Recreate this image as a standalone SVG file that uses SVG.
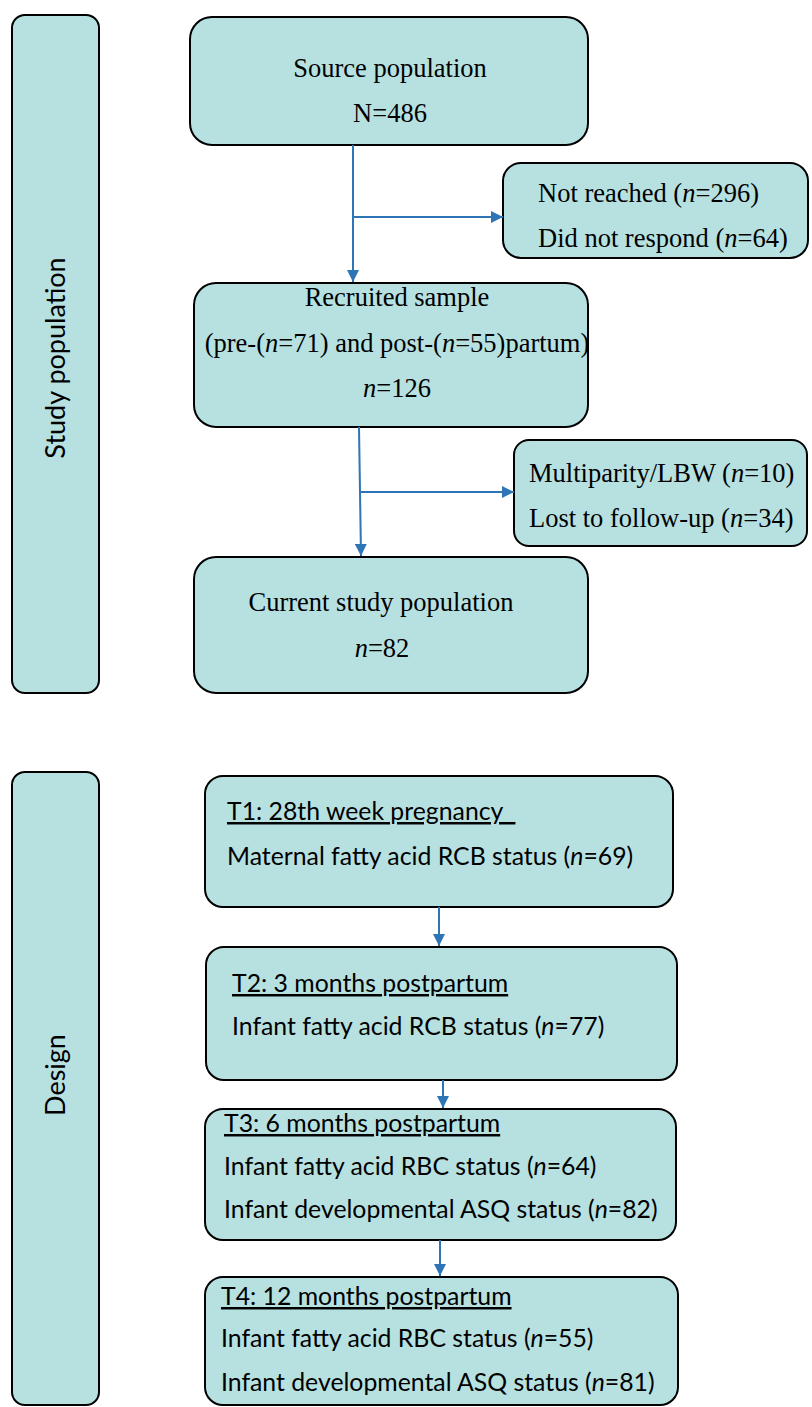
<svg xmlns="http://www.w3.org/2000/svg" width="812" height="1407" viewBox="0 0 812 1407">
<defs>
<style>
.box{fill:#b7e1e1;stroke:#000;stroke-width:2}
.serif{font-family:"Liberation Serif","Times New Roman",serif;font-size:26.5px;fill:#000}
.sans{font-family:Lato,"Liberation Sans",sans-serif;font-size:24.8px;fill:#000}
.side{font-family:Lato,"Liberation Sans",sans-serif;font-size:27px;fill:#000}
.conn{fill:none;stroke:#2e75b6;stroke-width:2}
.u{text-decoration:underline}
</style>
<marker id="ah" markerUnits="userSpaceOnUse" markerWidth="13" markerHeight="12" refX="12" refY="6" orient="auto">
<path d="M0,0 L12,6 L0,12 z" fill="#2e75b6"/>
</marker>
</defs>
<rect width="812" height="1407" fill="#fff"/>

<g id="side-study">
<rect class="box" x="12" y="15" width="87" height="678" rx="13"/>
<text class="side" transform="translate(65,358) rotate(-90)" text-anchor="middle">Study population</text>
</g>
<g id="side-design">
<rect class="box" x="12" y="772" width="87" height="633" rx="13"/>
<text class="side" transform="translate(65,1075) rotate(-90)" text-anchor="middle">Design</text>
</g>

<g id="source">
<rect class="box" x="190" y="17" width="398" height="128" rx="22"/>
<text class="serif" x="390" y="77" text-anchor="middle">Source population</text>
<text class="serif" x="390" y="122" text-anchor="middle">N=486</text>
</g>
<g id="excluded1">
<rect class="box" x="503" y="163" width="305" height="95" rx="18"/>
<text class="serif" x="538" y="202">Not reached (<tspan font-style="italic">n</tspan>=296)</text>
<text class="serif" x="538" y="247">Did not respond (<tspan font-style="italic">n</tspan>=64)</text>
</g>
<g id="recruited">
<rect class="box" x="194" y="283" width="394" height="144" rx="22"/>
<text class="serif" x="397" y="306" text-anchor="middle">Recruited sample</text>
<text class="serif" x="397" y="352" text-anchor="middle">(pre-(<tspan font-style="italic">n</tspan>=71) and post-(<tspan font-style="italic">n</tspan>=55)partum)</text>
<text class="serif" x="397" y="397" text-anchor="middle"><tspan font-style="italic">n</tspan>=126</text>
</g>
<g id="excluded2">
<rect class="box" x="514" y="440" width="293" height="106" rx="15"/>
<text class="serif" x="529" y="482">Multiparity/LBW (<tspan font-style="italic">n</tspan>=10)</text>
<text class="serif" x="529" y="527">Lost to follow-up (<tspan font-style="italic">n</tspan>=34)</text>
</g>
<g id="current">
<rect class="box" x="194" y="557" width="394" height="136" rx="22"/>
<text class="serif" x="381" y="611" text-anchor="middle">Current study population</text>
<text class="serif" x="382" y="657" text-anchor="middle"><tspan font-style="italic">n</tspan>=82</text>
</g>

<g id="t1">
<rect class="box" x="205" y="776" width="468" height="131" rx="18"/>
<text class="sans u" x="227" y="820" xml:space="preserve">T1: 28th week pregnancy&#160;&#160;</text>
<text class="sans" x="227" y="865">Maternal fatty acid RCB status (<tspan font-style="italic">n</tspan>=69)</text>
</g>
<g id="t2">
<rect class="box" x="206" y="947" width="471" height="133" rx="18"/>
<text class="sans u" x="232" y="992">T2: 3 months postpartum</text>
<text class="sans" x="232" y="1035">Infant fatty acid RCB status (<tspan font-style="italic">n</tspan>=77)</text>
</g>
<g id="t3">
<rect class="box" x="205" y="1109" width="471" height="131" rx="18"/>
<text class="sans u" x="224" y="1132">T3: 6 months postpartum</text>
<text class="sans" x="224" y="1175">Infant fatty acid RBC status (<tspan font-style="italic">n</tspan>=64)</text>
<text class="sans" x="224" y="1218">Infant developmental ASQ status (<tspan font-style="italic">n</tspan>=82)</text>
</g>
<g id="t4">
<rect class="box" x="205" y="1277" width="473" height="128" rx="18"/>
<text class="sans u" x="221" y="1305">T4: 12 months postpartum</text>
<text class="sans" x="221" y="1347">Infant fatty acid RBC status (<tspan font-style="italic">n</tspan>=55)</text>
<text class="sans" x="221" y="1391">Infant developmental ASQ status (<tspan font-style="italic">n</tspan>=81)</text>
</g>

<g id="connectors">
<path class="conn" d="M353,145 V282" marker-end="url(#ah)"/>
<path class="conn" d="M353,217 H503" marker-end="url(#ah)"/>
<path class="conn" d="M359,427 L361,556" marker-end="url(#ah)"/>
<path class="conn" d="M360,492 H514" marker-end="url(#ah)"/>
<path class="conn" d="M439,907 V946" marker-end="url(#ah)"/>
<path class="conn" d="M443,1080 V1108" marker-end="url(#ah)"/>
<path class="conn" d="M440,1240 V1276" marker-end="url(#ah)"/>
</g>
</svg>
